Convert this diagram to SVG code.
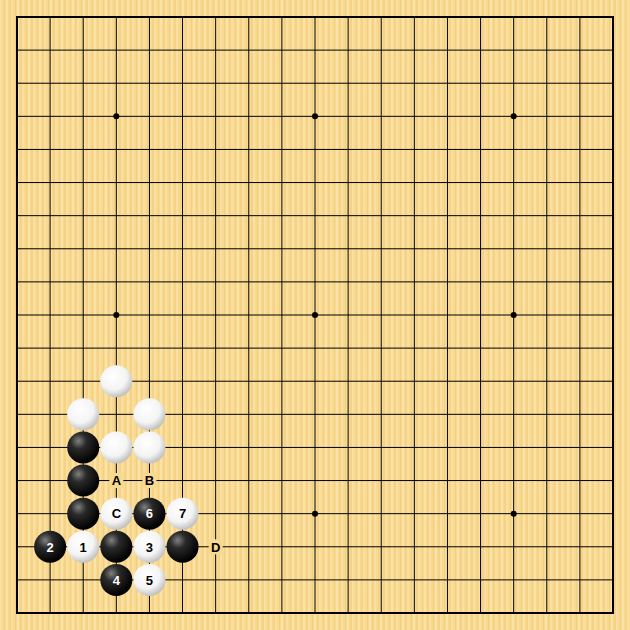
<svg xmlns="http://www.w3.org/2000/svg" width="630" height="630" viewBox="0 0 630 630">
<defs>
<pattern id="wood" width="11" height="630" patternUnits="userSpaceOnUse">
<rect width="11" height="630" fill="#F8D990"/>
<rect x="0" width="2" height="630" fill="#FADFA0"/>
<rect x="4" width="1" height="630" fill="#F3CF80"/>
<rect x="6" width="2" height="630" fill="#FBE3A8"/>
<rect x="9.5" width="1" height="630" fill="#F2CC7C"/>
</pattern>
<radialGradient id="bg" cx="0.35" cy="0.3" r="0.7">
<stop offset="0" stop-color="#808080"/>
<stop offset="0.35" stop-color="#2a2a2a"/>
<stop offset="1" stop-color="#000"/>
</radialGradient>
<radialGradient id="wg" cx="0.4" cy="0.35" r="0.7">
<stop offset="0" stop-color="#fff"/>
<stop offset="0.6" stop-color="#f4f4f4"/>
<stop offset="1" stop-color="#b8b8b8"/>
</radialGradient>
<style>
.grid{stroke:#000;stroke-width:1;fill:none}
.border{stroke:#000;stroke-width:2;fill:none}
.b{fill:url(#bg)}
.w{fill:url(#wg)}
.lbl{font-family:"Liberation Sans",Arial,sans-serif;font-size:13px;font-weight:bold;text-anchor:middle}
.lb{fill:#000}
.lw{fill:#fff}
.patch{fill:#F8D990}
</style>
</defs>
<rect width="630" height="630" fill="url(#wood)"/>
<g id="grid">
<path class="grid" d="M50.11 17V613M83.22 17V613M116.33 17V613M149.44 17V613M182.56 17V613M215.67 17V613M248.78 17V613M281.89 17V613M315 17V613M348.11 17V613M381.22 17V613M414.33 17V613M447.44 17V613M480.56 17V613M513.67 17V613M546.78 17V613M579.89 17V613
M17 50.11H613M17 83.22H613M17 116.33H613M17 149.44H613M17 182.56H613M17 215.67H613M17 248.78H613M17 281.89H613M17 315H613M17 348.11H613M17 381.22H613M17 414.33H613M17 447.44H613M17 480.56H613M17 513.67H613M17 546.78H613M17 579.89H613"/>
<rect class="border" x="17" y="17" width="596" height="596"/>
<g fill="#000">
<circle cx="116.33" cy="116.33" r="3"/><circle cx="315" cy="116.33" r="3"/><circle cx="513.67" cy="116.33" r="3"/>
<circle cx="116.33" cy="315" r="3"/><circle cx="315" cy="315" r="3"/><circle cx="513.67" cy="315" r="3"/>
<circle cx="116.33" cy="513.67" r="3"/><circle cx="315" cy="513.67" r="3"/><circle cx="513.67" cy="513.67" r="3"/>
</g>
</g>
<g id="stones">
<g id="w-3-11"><circle class="w" cx="116.33" cy="381.22" r="16"/></g>
<g id="w-2-12"><circle class="w" cx="83.22" cy="414.33" r="16"/></g>
<g id="w-4-12"><circle class="w" cx="149.44" cy="414.33" r="16"/></g>
<g id="b-2-13"><circle class="b" cx="83.22" cy="447.44" r="16"/></g>
<g id="w-3-13"><circle class="w" cx="116.33" cy="447.44" r="16"/></g>
<g id="w-4-13"><circle class="w" cx="149.44" cy="447.44" r="16"/></g>
<g id="b-2-14"><circle class="b" cx="83.22" cy="480.56" r="16"/></g>
<g id="b-2-15"><circle class="b" cx="83.22" cy="513.67" r="16"/></g>
<g id="w-C"><circle class="w" cx="116.33" cy="513.67" r="16"/><text class="lbl lb" x="116.33" y="518.4">C</text></g>
<g id="b-6"><circle class="b" cx="149.44" cy="513.67" r="16"/><text class="lbl lw" x="149.44" y="518.4">6</text></g>
<g id="w-7"><circle class="w" cx="182.56" cy="513.67" r="16"/><text class="lbl lb" x="182.56" y="518.4">7</text></g>
<g id="b-2"><circle class="b" cx="50.11" cy="546.78" r="16"/><text class="lbl lw" x="50.11" y="551.5">2</text></g>
<g id="w-1"><circle class="w" cx="83.22" cy="546.78" r="16"/><text class="lbl lb" x="83.22" y="551.5">1</text></g>
<g id="b-3-16"><circle class="b" cx="116.33" cy="546.78" r="16"/></g>
<g id="w-3"><circle class="w" cx="149.44" cy="546.78" r="16"/><text class="lbl lb" x="149.44" y="551.5">3</text></g>
<g id="b-5-16"><circle class="b" cx="182.56" cy="546.78" r="16"/></g>
<g id="b-4"><circle class="b" cx="116.33" cy="579.89" r="16"/><text class="lbl lw" x="116.33" y="584.6">4</text></g>
<g id="w-5"><circle class="w" cx="149.44" cy="579.89" r="16"/><text class="lbl lb" x="149.44" y="584.6">5</text></g>
</g>
<g id="labels">
<g id="lbl-A"><rect class="patch" x="109.3" y="473" width="14" height="15"/><text class="lbl lb" x="116.33" y="485.3">A</text></g>
<g id="lbl-B"><rect class="patch" x="142.4" y="473" width="14" height="15"/><text class="lbl lb" x="149.44" y="485.3">B</text></g>
<g id="lbl-D"><rect class="patch" x="208.7" y="539.3" width="14" height="15"/><text class="lbl lb" x="215.67" y="551.5">D</text></g>
</g>
</svg>
